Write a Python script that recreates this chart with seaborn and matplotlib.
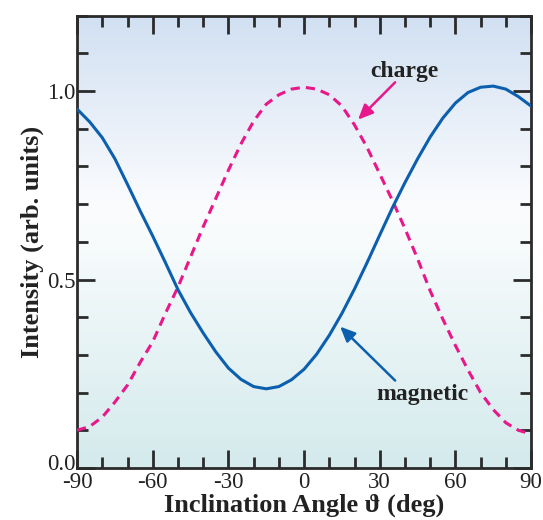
import matplotlib
matplotlib.use("Agg")
import matplotlib.pyplot as plt
import matplotlib.transforms as mtransforms
import numpy as np
import pandas as pd
import seaborn as sns
from matplotlib.colors import LinearSegmentedColormap
from matplotlib.ticker import MultipleLocator

# angles (deg) and intensities
angle = [-90, -85, -80, -75, -70, -65, -60, -55, -50, -45, -40, -35, -30, -25, -20,
         -15, -10, -5, 0, 5, 10, 15, 20, 25, 30, 35, 40, 45, 50, 55, 60, 65, 70,
         75, 80, 85, 90]
magnetic = [0.952, 0.918, 0.876, 0.82, 0.752, 0.682, 0.615, 0.545, 0.473, 0.412,
            0.358, 0.308, 0.265, 0.235, 0.216, 0.21, 0.216, 0.234, 0.262, 0.302,
            0.352, 0.41, 0.475, 0.545, 0.618, 0.69, 0.757, 0.82, 0.878, 0.928,
            0.968, 0.996, 1.01, 1.013, 1.005, 0.985, 0.96]
charge = [0.10, 0.11, 0.135, 0.175, 0.22, 0.28, 0.335, 0.41, 0.48, 0.56, 0.64,
          0.715, 0.79, 0.86, 0.92, 0.965, 0.99, 1.005, 1.01, 1.005, 0.99, 0.96,
          0.91, 0.85, 0.78, 0.71, 0.635, 0.555, 0.47, 0.395, 0.325, 0.26, 0.20,
          0.155, 0.12, 0.10, 0.09]

x_ticks = [-90, -60, -30, 0, 30, 60, 90]
x_tick_labels = ['-90', '-60', '-30', '0', '30', '60', '90']
y_ticks = [0.0, 0.5, 1.0]
y_tick_labels = ['0.0', '0.5', '1.0']

df = pd.DataFrame({'angle': angle, 'magnetic': magnetic, 'charge': charge})

sns.set_style('ticks')
plt.rcParams['font.family'] = ['Liberation Serif', 'DejaVu Serif']

blue = '#0b5fae'
pink = '#e8178a'
spine_col = '#2b2b2b'
text_col = '#222222'

fig = plt.figure(figsize=(5.43, 5.2), dpi=100)
ax = fig.add_axes([0.142, 0.1, 0.836, 0.87])

# vertical background gradient: light teal (bottom) -> white -> light blue (top)
bg = LinearSegmentedColormap.from_list(
    'bg', [(0.0, '#d4eaec'), (0.5, '#f7fbfc'), (0.58, '#fbfcfe'), (1.0, '#d1e0f2')])
ax.imshow(np.linspace(0, 1, 256).reshape(-1, 1), cmap=bg, origin='lower',
          aspect='auto', extent=[-90, 90, 0, 1.2], zorder=0)

sns.lineplot(data=df, x='angle', y='charge', ax=ax, color=pink, lw=2.2,
             linestyle=(0, (3.0, 2.0)), zorder=3)
sns.lineplot(data=df, x='angle', y='magnetic', ax=ax, color=blue, lw=2.2, zorder=4)

ax.set_xlim(-90, 90)
ax.set_ylim(0, 1.2)
ax.set_xticks(x_ticks)
ax.set_xticklabels(x_tick_labels)
ax.set_yticks(y_ticks)
ax.set_yticklabels(y_tick_labels)
ax.xaxis.set_minor_locator(MultipleLocator(10))
ax.yaxis.set_minor_locator(MultipleLocator(0.1))
ax.tick_params(which='both', direction='in', top=True, right=True,
               color=spine_col, width=2, labelsize=16.5, labelcolor=text_col, pad=1)
ax.tick_params(axis='x', which='major', pad=3)
ax.tick_params(which='major', length=13)
ax.tick_params(which='minor', length=8)
for s in ax.spines.values():
    s.set_color(spine_col)
    s.set_linewidth(2)

# the bottom y label sits a little higher, clear of the "-90" below it
lbl = ax.get_yticklabels()[0]
lbl.set_transform(lbl.get_transform() +
                  mtransforms.ScaledTranslation(0, 4 / 72, fig.dpi_scale_trans))

ax.set_xlabel('Inclination Angle \u03d1 (deg)', fontsize=19, fontweight='bold',
              color=text_col, labelpad=0)
ax.set_ylabel('Intensity (arb. units)', fontsize=19, fontweight='bold',
              color=text_col, labelpad=2)

head = '-|>,head_length=0.9,head_width=0.4'
ax.annotate('', xy=(21.4, 0.924), xytext=(36.1, 1.023),
            arrowprops=dict(arrowstyle=head, color=pink, lw=1.8,
                            shrinkA=0, shrinkB=0), zorder=5)
ax.text(39.7, 1.052, 'charge', ha='center', va='center', fontsize=17,
        fontweight='bold', color=text_col, zorder=5)
ax.annotate('', xy=(14.3, 0.375), xytext=(36.1, 0.232),
            arrowprops=dict(arrowstyle=head, color=blue, lw=1.8,
                            shrinkA=0, shrinkB=0), zorder=5)
ax.text(46.8, 0.195, 'magnetic', ha='center', va='center', fontsize=17,
        fontweight='bold', color=text_col, zorder=5)

fig.savefig('out.png', dpi=100)
